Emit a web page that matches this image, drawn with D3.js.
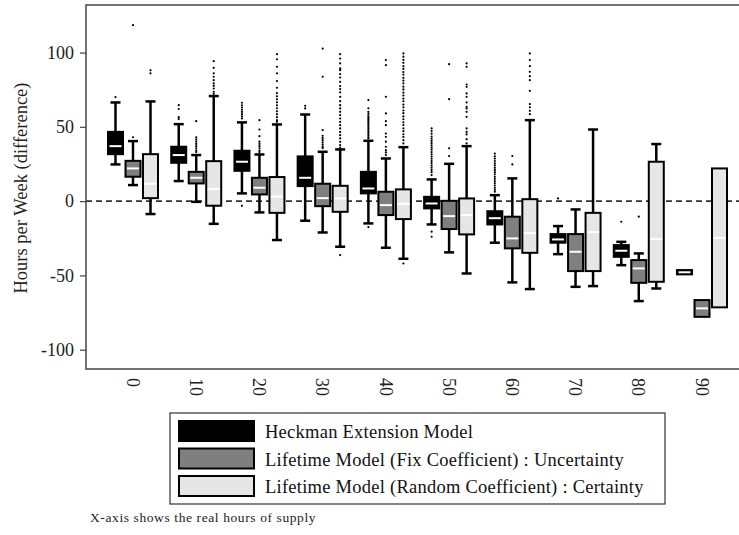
<!DOCTYPE html>
<html>
<head>
<meta charset="utf-8">
<script src="https://cdn.jsdelivr.net/npm/d3@7"></script>
<style>
  body { margin: 0; background: #fff; }
  svg { display: block; }
  svg text { font-family: "Liberation Serif", "DejaVu Serif", serif; }
</style>
</head>
<body>
<div id="chart"></div>
<script>
// hours of supply (x categories)
const categories = ["0", "10", "20", "30", "40", "50", "60", "70", "80", "90"];
const seriesNames = [
  "Heckman Extension Model",
  "Lifetime Model (Fix Coefficient) : Uncertainty",
  "Lifetime Model (Random Coefficient) : Certainty"
];
const seriesColors = ["#000000", "#7f7f7f", "#e6e6e6"];
const yTicks = [-100, -50, 0, 50, 100];

// [lower whisker, q1, median, q3, upper whisker]
const heckmanBoxes = [
  [24.7, 31.6, 37.0, 46.6, 66.4],
  [13.5, 25.8, 31.0, 36.6, 51.8],
  [5.2, 20.4, 26.5, 33.9, 53.0],
  [-13.2, 10.1, 15.7, 30.1, 58.3],
  [-15.0, 5.2, 8.5, 19.7, 40.6],
  [-15.7, -4.9, -1.6, 2.9, 14.6],
  [-28.0, -15.7, -11.5, -6.8, 4.0],
  [-35.7, -28.0, -25.8, -22.2, -16.8],
  [-43.1, -37.5, -33.4, -29.6, -27.4],
  [-49.3, -49.3, -47.9, -46.4, -46.4]
];
const fixBoxes = [
  [10.8, 16.4, 22.0, 27.1, 40.4],
  [-0.5, 11.9, 15.7, 19.7, 31.0],
  [-7.6, 4.5, 9.0, 15.7, 31.4],
  [-21.1, -3.4, 2.0, 11.7, 33.2],
  [-31.4, -9.4, -2.7, 6.3, 28.7],
  [-34.5, -18.8, -10.1, 0.2, 25.1],
  [-54.7, -31.8, -25.1, -10.5, 15.3],
  [-57.7, -47.1, -34.1, -22.2, -5.6],
  [-67.3, -55.0, -45.3, -39.7, -35.2],
  [-77.9, -77.9, -72.2, -66.6, -66.6]
];
const randomBoxes = [
  [-8.7, 2.0, 11.7, 31.6, 67.1],
  [-15.3, -3.1, 8.1, 26.9, 70.7],
  [-26.2, -7.9, 3.1, 16.2, 51.6],
  [-30.7, -7.2, 1.8, 10.3, 34.8],
  [-38.8, -12.1, -1.8, 7.9, 36.3],
  [-48.7, -22.4, -9.4, 1.8, 37.0],
  [-59.2, -34.8, -21.5, 1.3, 54.5],
  [-57.2, -47.1, -20.9, -7.9, 48.2],
  [-58.8, -54.3, -25.6, 26.5, 38.4],
  [-71.5, -71.5, -24.7, 22.0, 22.0]
];

// outside values
const heckmanOutliers = [
  [70],
  [64.6, 62, 56.5, 55.2],
  [66.2, 64.5, 63, 61.5, 60, 58.5, 57, 55.6, -3.2],
  [64.2, 62.4],
  [68, 62.5, 60, 58.5, 57, 56, 55, 54, 53, 52, 51, 50, 49, 48, 47, 46, 45, 44, 43, 42.2, -17.5],
  [48.9, 47.2, 45.4, 43.5, 42, 40.5, 39, 37.5, 36, 34.6, 33, 31.5, 30, 28.5, 27, 25.6, 24, 22.5, 21, 19.5, 17.5, -20.6, -24],
  [32, 30.2, 28.6, 27, 25.5, 24, 22.4, 21, 19.5, 18, 16.4, 15, 13.5, 12, 10.5, 9, 7.6, 6.3],
  [1.8],
  [-13.9],
  []
];
const fixOutliers = [
  [118.4, 43],
  [53.8, 43, 41.5, 40, 38.5, 37, 35.5, 34, 33],
  [54.5, 48.2, 43.7, 40, 38.5, 37, 35.5, 34, 33],
  [102.7, 83.7, 47.8, 44, 42.5, 41, 39.5, 38, 36.5, 35.7],
  [94.9, 91.5, 70.2, 59, 53.8, 51.1, 45.5, 43.3, 40, 36.6, 34.3, 32.8, 31],
  [92.2, 68.6, 35.5, 30.3],
  [30.3, 24.7],
  [],
  [-10.5],
  []
];
const randomOutliers = [
  [88, 86],
  [94.2, 89.7, 86, 83.7, 81.4, 79.2, 77.6, 75.8, 73.6, 72.2],
  [98.9, 95.5, 90.4, 86, 80.8, 76.3, 72.7, 70.5, 68.5, 66.5, 64.5, 62.5, 60.5, 58.5, 56.5, 54.5, 53.4],
  [98.9, 96, 92.7, 89.3, 88.1, 85.5, 83.2, 80.3, 77.4, 75.4, 73.2, 70.2, 67.3, 64.6, 62.4, 60.1, 57.9,
   55.6, 53.4, 51.1, 48.9, 46.6, 44.4, 42.2, 39.9, 37.7, 36.1, -36.3],
  [99.4, 97.2, 95, 93.1, 90.8, 89, 86.9, 85.2, 83, 81.1, 79.3, 77, 75.2, 73, 71.1, 69, 67.2, 65, 63.1,
   61, 59.2, 57, 55.1, 53, 51.2, 49, 47.1, 45, 43.2, 41, 38.8, -42],
  [92.7, 90.4, 78.5, 76.9, 72.5, 70.2, 66.4, 63.5, 62.4, 60.1, 56.7, 48.9, 46.6, 44.9, 41.7, 38.8],
  [99.4, 94.9, 90.8, 87, 84.1, 81.4, 74.2, 65.3, 63.1, 60.8, 58.5],
  [],
  [],
  []
];

const boxSets = [heckmanBoxes, fixBoxes, randomBoxes];
const outlierSets = [heckmanOutliers, fixOutliers, randomOutliers];

const W = 739, H = 535;
const font = "Liberation Serif, DejaVu Serif, serif";

const svg = d3.select("#chart").append("svg")
  .attr("width", W)
  .attr("height", H);

const x = d3.scalePoint().domain(categories).range([133, 702]);
const sub = d3.scalePoint().domain([0, 1, 2]).range([-17.5, 17.5]);
const y = d3.scaleLinear().domain([-113, 132]).range([369, 5]);
const boxW = 15;

// zero reference line
svg.append("line")
  .attr("x1", 86).attr("x2", W)
  .attr("y1", y(0)).attr("y2", y(0))
  .attr("stroke", "#333")
  .attr("stroke-width", 1.6)
  .attr("stroke-dasharray", "6,4");

// boxes
boxSets.forEach(function(boxes, s) {
  const g = svg.append("g");
  const grp = g.selectAll("g")
    .data(boxes.map(function(d, i) { return { cat: categories[i], v: d, out: outlierSets[s][i] }; }))
    .enter()
    .append("g")
    .attr("transform", function(d) { return "translate(" + (x(d.cat) + sub(s)) + ",0)"; });

  // whiskers
  const up = grp.filter(function(d) { return d.v[4] > d.v[3]; });
  up.append("line")
    .attr("y1", function(d) { return y(d.v[3]); })
    .attr("y2", function(d) { return y(d.v[4]); })
    .attr("stroke", "#000").attr("stroke-width", 2.5);
  up.append("line")
    .attr("x1", -5).attr("x2", 5)
    .attr("y1", function(d) { return y(d.v[4]); })
    .attr("y2", function(d) { return y(d.v[4]); })
    .attr("stroke", "#000").attr("stroke-width", 2.5);
  const down = grp.filter(function(d) { return d.v[0] < d.v[1]; });
  down.append("line")
    .attr("y1", function(d) { return y(d.v[1]); })
    .attr("y2", function(d) { return y(d.v[0]); })
    .attr("stroke", "#000").attr("stroke-width", 2.5);
  down.append("line")
    .attr("x1", -5).attr("x2", 5)
    .attr("y1", function(d) { return y(d.v[0]); })
    .attr("y2", function(d) { return y(d.v[0]); })
    .attr("stroke", "#000").attr("stroke-width", 2.5);

  // box
  grp.append("rect")
    .attr("x", -boxW / 2)
    .attr("width", boxW)
    .attr("y", function(d) { return y(d.v[3]); })
    .attr("height", function(d) { return y(d.v[1]) - y(d.v[3]); })
    .attr("fill", seriesColors[s])
    .attr("stroke", "#000")
    .attr("stroke-width", 2);

  // median
  grp.append("line")
    .attr("x1", -boxW / 2 + 1.5).attr("x2", boxW / 2 - 1.5)
    .attr("y1", function(d) { return y(d.v[2]); })
    .attr("y2", function(d) { return y(d.v[2]); })
    .attr("stroke", "#fff").attr("stroke-width", 2);

  // outside values
  grp.selectAll("circle")
    .data(function(d) { return d.out; })
    .enter()
    .append("circle")
    .attr("cx", 0)
    .attr("cy", function(d) { return y(d); })
    .attr("r", 1.1)
    .attr("fill", "#000");
});

// plot frame
svg.append("rect")
  .attr("x", 86).attr("y", 5)
  .attr("width", 700).attr("height", 364)
  .attr("fill", "none")
  .attr("stroke", "#444")
  .attr("stroke-width", 1.5);

// y axis
const yAxis = svg.append("g")
  .attr("transform", "translate(86,0)")
  .call(d3.axisLeft(y).tickValues(yTicks).tickSize(6).tickPadding(6)
    .tickFormat(function(d) { return String(d); }));
yAxis.attr("font-family", font).attr("font-size", 18);
yAxis.select(".domain").remove();
yAxis.selectAll("line").attr("stroke", "#444").attr("stroke-width", 1.2);
yAxis.selectAll("text").attr("fill", "#222");

svg.append("text")
  .attr("transform", "translate(27,188) rotate(-90)")
  .attr("text-anchor", "middle")
  .attr("font-family", font)
  .attr("font-size", 18.5)
  .attr("fill", "#222")
  .text("Hours per Week (difference)");

// x tick labels, rotated
svg.append("g").selectAll("text")
  .data(categories)
  .enter()
  .append("text")
  .attr("transform", function(d) { return "translate(" + x(d) + ",378) rotate(90)"; })
  .attr("dy", "0.35em")
  .attr("text-anchor", "start")
  .attr("font-family", font)
  .attr("font-size", 18)
  .attr("fill", "#222")
  .text(function(d) { return d; });

// legend
const legend = svg.append("g");
legend.append("rect")
  .attr("x", 170).attr("y", 413)
  .attr("width", 495).attr("height", 91)
  .attr("fill", "#fff")
  .attr("stroke", "#333")
  .attr("stroke-width", 1.2);
const rows = legend.selectAll("g.row")
  .data(seriesNames)
  .enter()
  .append("g")
  .attr("class", "row")
  .attr("transform", function(d, i) { return "translate(0," + (421 + i * 27.5) + ")"; });
rows.append("rect")
  .attr("x", 179).attr("y", 0)
  .attr("width", 75).attr("height", 20)
  .attr("fill", function(d, i) { return seriesColors[i]; })
  .attr("stroke", "#000")
  .attr("stroke-width", 2);
rows.append("text")
  .attr("x", 265).attr("y", 17)
  .attr("font-family", font)
  .attr("font-size", 18.5)
  .attr("letter-spacing", 0.25)
  .attr("fill", "#111")
  .text(function(d) { return d; });

// note
svg.append("text")
  .attr("x", 90).attr("y", 522)
  .attr("font-family", font)
  .attr("font-size", 13.5)
  .attr("letter-spacing", 0.6)
  .attr("fill", "#222")
  .text("X-axis shows the real hours of supply");
</script>
</body>
</html>
